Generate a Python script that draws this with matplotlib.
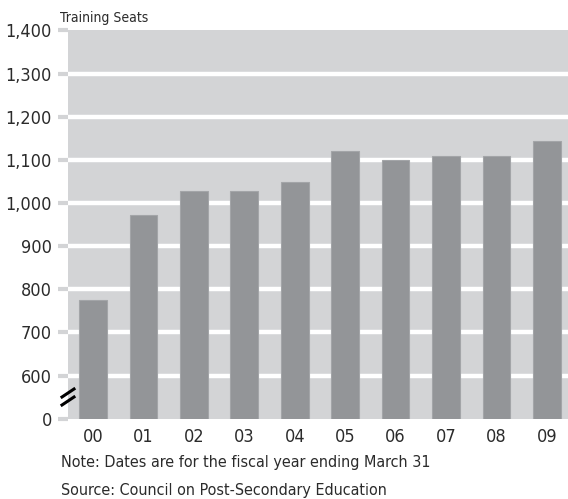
import matplotlib
matplotlib.use("Agg")
import matplotlib.pyplot as plt

years = ["00", "01", "02", "03", "04", "05", "06", "07", "08", "09"]
seats = [774, 973, 1027, 1027, 1048, 1121, 1100, 1109, 1109, 1143]
ytick_vals = [500, 600, 700, 800, 900, 1000, 1100, 1200, 1300, 1400]
ytick_labels = ["0", "600", "700", "800", "900", "1,000", "1,100", "1,200", "1,300", "1,400"]
base = 500

plt.rcParams['font.family'] = ['DejaVu Sans']
txt_col = "#2b2b2b"
fig = plt.figure(figsize=(5.68, 4.99), dpi=100)
ax = fig.add_axes([0.119, 0.161, 0.881, 0.778])
ax.set_facecolor("#d3d4d6")

x = list(range(len(years)))
ax.bar(x, [v - base for v in seats], bottom=base, width=0.55,
       color="#939598", edgecolor="#a3a5a8", linewidth=0.8, zorder=3)

ax.set_xlim(-0.506, 9.42)
ax.set_ylim(base, 1400)
ax.set_yticks(ytick_vals)
ax.set_yticklabels(ytick_labels, fontsize=13, color=txt_col, fontstretch='condensed')
for v in ytick_vals[1:-1]:
    ax.axhline(v, color="white", lw=3.2, zorder=1)
ax.set_xticks(x)
ax.set_xticklabels(years, fontsize=13, color=txt_col, fontstretch='condensed')
ax.tick_params(axis='y', length=7.2, width=3, color="#d3d4d6", pad=4)
ax.tick_params(axis='x', length=0, pad=7)
for s in ax.spines.values():
    s.set_visible(False)

# axis break marks
for dy in (0, 8):
    fig.lines.append(plt.Line2D([62/568, 74/568],
                                [1-(397+dy)/499, 1-(389+dy)/499],
                                transform=fig.transFigure, color="black", lw=2.2))

fig.text(60/568, 1-18/499, "Training Seats", fontsize=10, color=txt_col,
         va="center", ha="left", fontstretch='condensed')
fig.text(61/568, 1-462/499, "Note: Dates are for the fiscal year ending March 31",
         fontsize=11.5, color=txt_col, va="center", ha="left", fontstretch='condensed')
fig.text(61/568, 1-490/499, "Source: Council on Post-Secondary Education",
         fontsize=11.5, color=txt_col, va="center", ha="left", fontstretch='condensed')

fig.savefig("out.png", dpi=100)
